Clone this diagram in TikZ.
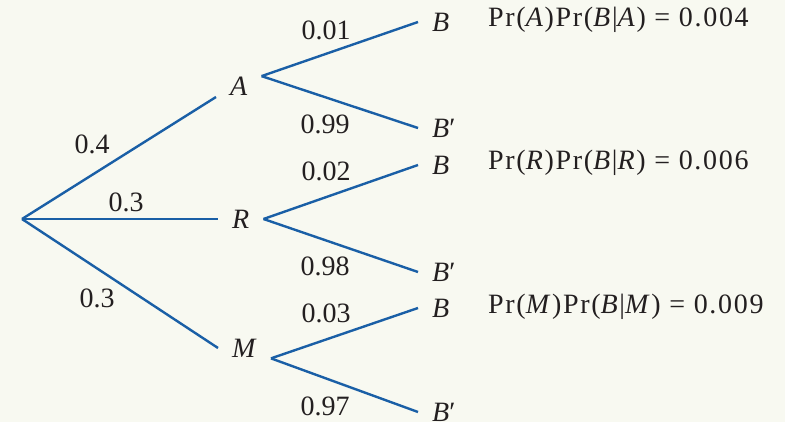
\documentclass[tikz,border=0pt]{standalone}
\usepackage{fontspec}
\setmainfont{Liberation Serif}
\newfontfamily\formulafont[LetterSpace=6]{Liberation Serif}
\usetikzlibrary{positioning}

\definecolor{paper}{HTML}{F8F9F1}
\definecolor{treeblue}{HTML}{1A5FA6}
\definecolor{ink}{HTML}{231F20}

\tikzset{
    branch/.style={draw=treeblue, line width=2.4pt},
    event/.style={inner xsep=14pt, inner ysep=1pt, text=ink},
    prob/.style={inner sep=0pt, text=ink},
    result/.style={inner sep=0pt, anchor=west, text=ink, font=\fontsize{28}{32}\formulafont}
}

\begin{document}
\begin{tikzpicture}[x=1pt, y=-1pt, font=\fontsize{28}{32}\selectfont]
\useasboundingbox[fill=paper] (0,0) rectangle (785,422);

\coordinate (root) at (22,219);

% first stage
\node[event, anchor=south west] (A) at (216,97) {\textit{A}};
\node[event, anchor=west] (R) at (218,219) {\textit{R}};
\node[event, anchor=west] (M) at (218,348) {\textit{M}};

\draw[branch] (root) -- (A.south west);
\draw[branch] (root) -- (R.west);
\draw[branch] (root) -- (M.west);

\node[prob] at (92,144) {0.4};
\node[prob] at (126,202) {0.3};
\node[prob] at (97,298) {0.3};

% second stage
\foreach \ev/\top/\yb/\ybp/\pb/\pbp/\yl/\ylp in {A/north east/22/128/0.01/0.99/30/124,
                                                R/east/165/272/0.02/0.98/171/266,
                                                M/south east/308/412/0.03/0.97/313/406} {
    \node[event, anchor=west] (\ev B) at (418,\yb) {\textit{B}};
    \node[event, anchor=west] (\ev Bc) at (418,\ybp) {\textit{B}′};
    \draw[branch] (\ev.\top) -- (\ev B.west);
    \draw[branch] (\ev.\top) -- (\ev Bc.west);
    \node[prob] at (326,\yl) {\pb};
    \node[prob] at (325,\ylp) {\pbp};
}

% products
\node[result] (resA) at (488,20) {Pr(\textit{A})Pr(\textit{B}|\textit{A}) = 0.004};
\node[result] (resR) at (488,163) {Pr(\textit{R})Pr(\textit{B}|\textit{R}) = 0.006};
\node[result] (resM) at (488,307) {Pr(\textit{M})Pr(\textit{B}|\textit{M}) = 0.009};
\end{tikzpicture}
\end{document}
